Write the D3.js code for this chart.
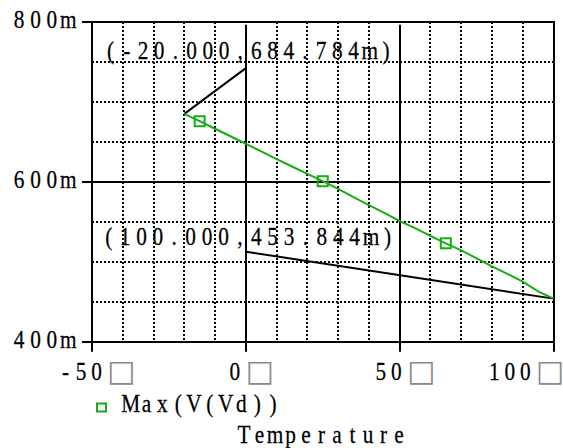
<!DOCTYPE html>
<html>
<head>
<meta charset="utf-8">
<script src="https://cdn.jsdelivr.net/npm/d3@7"></script>
<style>
  html, body { margin: 0; padding: 0; background: #fff; }
  svg { display: block; }
  text { font-family: 'Liberation Serif', serif; font-size: 26px; fill: #000; stroke: #000; stroke-width: 0.25px; }
</style>
</head>
<body>
<div id="chart"></div>
<script>
// temperature sweep and Max(V(Vd)) in mV
const temps = [-20, -15, -10, -5, 0, 5, 10, 15, 20, 25, 30, 35, 40, 45, 50, 55, 60, 65, 70, 75, 80, 85, 90, 95, 100]
const vmax = [684.8, 675.6, 666.2, 656.8, 647.4, 637.8, 628.3, 619.0, 609.8, 600.6, 591.0, 580.6, 570.8,
              561.0, 550.6, 542.0, 532.4, 523.0, 514.2, 504.2, 494.2, 484.8, 475.0, 463.0, 453.8]

const xTicks = [-50, 0, 50, 100]
const xLabels = ['-50', '0', '50', '100']
const yTicks = [400, 600, 800]
const yLabels = ['400m', '600m', '800m']

// cursor marks: point, label text, end of leader line
const markPoints = [[-20, 684.784], [100, 453.844]]
const markLabels = ['(-20.000,684.784m)', '(100.000,453.844m)']
const leaderEnds = [[0, 742], [0, 512.5]]

const legendLabel = 'Max(V(Vd))'
const axisTitle = 'Temperature'

const W = 563, H = 448
const pLeft = 92, pRight = 553.5, pTop = 21.7, pBottom = 341.7
const green = '#14ad14'

const svg = d3.select('#chart').append('svg').attr('width', W).attr('height', H)

const x = d3.scaleLinear().domain([-50, 100]).range([pLeft, pRight])
const y = d3.scaleLinear().domain([400, 800]).range([pBottom, pTop])
const px = v => Math.round(v)

// fixed pitch text, like the original plot font
function mtext(g, str, x0, yy, pitch) {
    const sx = 0.82
    return g.append('text')
        .attr('transform', `translate(${x0},${yy}) scale(${sx},1)`)
        .attr('x', Array.from(str, (c, i) => ((i + 0.5) * pitch / sx).toFixed(2)).join(' '))
        .attr('y', 0)
        .attr('text-anchor', 'middle')
        .text(str)
}

// minor dotted grid
const grid = svg.append('g')
grid.selectAll('.vminor')
    .data(x.ticks(15).filter(d => !xTicks.includes(d)))
    .join('line')
    .attr('x1', d => px(x(d))).attr('x2', d => px(x(d)))
    .attr('y1', px(pTop)).attr('y2', px(pBottom))
    .attr('stroke', '#000').attr('stroke-width', 2).attr('stroke-dasharray', '2,2')
grid.selectAll('.hminor')
    .data(y.ticks(8).filter(d => !yTicks.includes(d)))
    .join('line')
    .attr('x1', px(pLeft)).attr('x2', px(pRight))
    .attr('y1', d => px(y(d))).attr('y2', d => px(y(d)))
    .attr('stroke', '#000').attr('stroke-width', 2).attr('stroke-dasharray', '2,2')

// major solid grid
grid.selectAll('.vmajor')
    .data(xTicks.slice(1, -1))
    .join('line')
    .attr('x1', d => px(x(d))).attr('x2', d => px(x(d)))
    .attr('y1', pTop + 3).attr('y2', pBottom)
    .attr('stroke', '#000').attr('stroke-width', 2)
grid.selectAll('.hmajor')
    .data(yTicks.slice(1, -1))
    .join('line')
    .attr('x1', pLeft).attr('x2', pRight - 3)
    .attr('y1', d => px(y(d))).attr('y2', d => px(y(d)))
    .attr('stroke', '#000').attr('stroke-width', 2)

// frame
svg.append('rect')
    .attr('x', px(pLeft)).attr('y', px(pTop))
    .attr('width', px(pRight) - px(pLeft)).attr('height', px(pBottom) - px(pTop))
    .attr('fill', 'none').attr('stroke', '#000').attr('stroke-width', 2)

// axis ticks
svg.append('g').selectAll('line')
    .data(xTicks)
    .join('line')
    .attr('x1', d => px(x(d))).attr('x2', d => px(x(d)))
    .attr('y1', pBottom).attr('y2', pBottom + 10)
    .attr('stroke', '#000').attr('stroke-width', 2)
svg.append('g').selectAll('line')
    .data(yTicks)
    .join('line')
    .attr('x1', pLeft - 10).attr('x2', pLeft)
    .attr('y1', d => px(y(d))).attr('y2', d => px(y(d)))
    .attr('stroke', '#000').attr('stroke-width', 2)

// y tick labels
const ylab = svg.append('g')
yTicks.forEach((t, i) => {
    const s = yLabels[i], pitch = 16.4
    mtext(ylab, s, 76.5 - s.length * pitch, y(t) + 6.5, pitch)
})

// x tick labels with the missing unit glyph
const xlab = svg.append('g')
xTicks.forEach((t, i) => {
    const s = xLabels[i], pitch = 15.5
    const w = s.length * pitch + 29
    const l = Math.min(x(t) + 3.5 - w / 2, 562 - w)
    mtext(xlab, s, l, 380, pitch)
    xlab.append('text')
        .attr('x', l + s.length * pitch + 17)
        .attr('y', 381)
        .attr('text-anchor', 'middle')
        .style('font-family', 'DejaVu Sans')
        .style('font-size', '30px')
        .style('fill', '#8a8a8a')
        .style('stroke', 'none')
        .text('□')
})

// leader lines for the cursor marks
svg.append('g').selectAll('line')
    .data(markPoints)
    .join('line')
    .attr('x1', d => x(d[0])).attr('y1', d => y(d[1]))
    .attr('x2', (d, i) => x(leaderEnds[i][0])).attr('y2', (d, i) => y(leaderEnds[i][1]))
    .attr('stroke', '#000').attr('stroke-width', 2)

// data line
const line = d3.line().x(d => x(d[0])).y(d => y(d[1]))
const pts = temps.map((t, i) => [t, vmax[i]])
svg.append('path')
    .datum(pts)
    .attr('d', line)
    .attr('fill', 'none')
    .attr('stroke', green)
    .attr('stroke-width', 2)

svg.append('g').selectAll('rect')
    .data(pts.filter((d, i) => i % 8 === 1))
    .join('rect')
    .attr('x', d => x(d[0]) - 5).attr('y', d => y(d[1]) - 5)
    .attr('width', 10).attr('height', 10)
    .attr('fill', 'none').attr('stroke', green).attr('stroke-width', 2)

// mark labels
const ann = svg.append('g')
mtext(ann, markLabels[0], 102.5, 58.5, 16.2)
mtext(ann, markLabels[1], 100.5, 245, 16.4)

// legend
svg.append('rect')
    .attr('x', 97).attr('y', 403.5)
    .attr('width', 9).attr('height', 8)
    .attr('fill', 'none').attr('stroke', green).attr('stroke-width', 2)
mtext(svg, legendLabel, 122.9, 411.7, 15.8)

// axis title
mtext(svg, axisTitle, 236.3, 443, 15.5)
</script>
</body>
</html>
